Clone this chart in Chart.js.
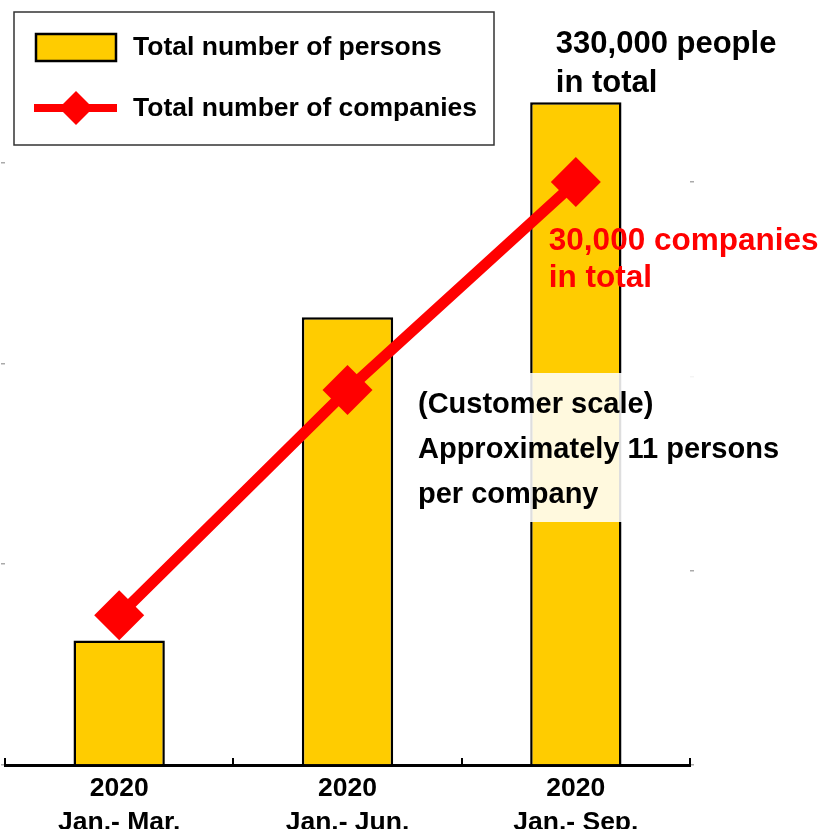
<!DOCTYPE html>
<html>
<head>
<meta charset="utf-8">
<title>Customers</title>
<script src="https://cdn.jsdelivr.net/npm/chart.js@4.4.1/dist/chart.umd.min.js"></script>
<style>
  body { margin: 0; background: #fff; }
  #wrap { position: relative; width: 821px; height: 829px; }
</style>
</head>
<body>
<div id="wrap"><canvas id="customersChart"></canvas></div>
<script>
// cumulative figures per period
const periods = [['2020', 'Jan.- Mar.'], ['2020', 'Jan.- Jun.'], ['2020', 'Jan.- Sep.']];
const totalPersons = [62000, 223000, 330000];
const totalCompanies = [7700, 19300, 30000];
const personsTicks = [0, 100000, 200000, 300000];
const companiesTicks = [0, 10000, 20000, 30000];
const personsPerCompany = 11;

const FONT = "'Liberation Sans', Arial, sans-serif";
const YELLOW = '#FFCC00';
const RED = '#FF0000';

function diamond(ctx, x, y, r) {
    ctx.beginPath();
    ctx.moveTo(x - r, y);
    ctx.lineTo(x, y - r);
    ctx.lineTo(x + r, y);
    ctx.lineTo(x, y + r);
    ctx.closePath();
    ctx.fill();
}

// boxed legend top-left, value call-outs and the scale note
const overlays = {
    id: 'overlays',
    afterDraw(chart) {
        const ctx = chart.ctx;
        const bars = chart.data.datasets[0];
        const line = chart.data.datasets[1];
        const lastBar = chart.getDatasetMeta(0).data[2];
        const lastPoint = chart.getDatasetMeta(1).data[2];
        ctx.save();

        ctx.fillStyle = '#fff';
        ctx.fillRect(14, 12, 480, 133);
        ctx.strokeStyle = '#333';
        ctx.lineWidth = 1.5;
        ctx.strokeRect(14, 12, 480, 133);

        ctx.fillStyle = bars.backgroundColor;
        ctx.fillRect(36, 34, 80, 27);
        ctx.strokeStyle = bars.borderColor;
        ctx.lineWidth = 2.5;
        ctx.strokeRect(36, 34, 80, 27);

        ctx.strokeStyle = line.borderColor;
        ctx.lineWidth = 8;
        ctx.beginPath();
        ctx.moveTo(34, 108);
        ctx.lineTo(117, 108);
        ctx.stroke();
        ctx.fillStyle = line.borderColor;
        diamond(ctx, 76, 108, 17);

        ctx.fillStyle = '#000';
        ctx.font = 'bold 26.5px ' + FONT;
        ctx.textBaseline = 'middle';
        ctx.fillText(bars.label, 133, 48);
        ctx.fillText(line.label, 133, 109);

        ctx.textBaseline = 'alphabetic';
        ctx.font = 'bold 31px ' + FONT;
        ctx.fillText(totalPersons[2].toLocaleString('en-US') + ' people', lastBar.x - 20, lastBar.y - 49);
        ctx.fillText('in total', lastBar.x - 20, lastBar.y - 10);

        ctx.fillStyle = RED;
        ctx.font = 'bold 31.5px ' + FONT;
        ctx.fillText(totalCompanies[2].toLocaleString('en-US') + ' companies', lastPoint.x - 27, lastPoint.y + 68);
        ctx.fillText('in total', lastPoint.x - 27, lastPoint.y + 105);

        ctx.fillStyle = 'rgba(255,255,255,0.87)';
        ctx.fillRect(405, 373, 395, 149);
        ctx.fillStyle = '#000';
        ctx.font = 'bold 29px ' + FONT;
        ctx.fillText('(Customer scale)', 418, 413);
        ctx.fillText('Approximately ' + personsPerCompany + ' persons', 418, 458);
        ctx.fillText('per company', 418, 503);

        ctx.restore();
    }
};

new Chart(document.getElementById('customersChart'), {
    data: {
        labels: periods,
        datasets: [{
            type: 'bar',
            label: 'Total number of persons',
            data: totalPersons,
            backgroundColor: YELLOW,
            borderColor: '#000',
            borderWidth: 2.5,
            barPercentage: 0.4,
            categoryPercentage: 1,
            yAxisID: 'y',
            order: 1
        }, {
            type: 'line',
            label: 'Total number of companies',
            data: totalCompanies,
            borderColor: RED,
            backgroundColor: RED,
            borderWidth: 11,
            pointStyle: 'rectRot',
            pointRadius: 25,
            pointBorderWidth: 0,
            pointBackgroundColor: RED,
            yAxisID: 'y1',
            order: 0
        }]
    },
    options: {
        responsive: true,
        maintainAspectRatio: false,
        animation: false,
        layout: {
            autoPadding: false,
            padding: { left: 1, right: 127, top: 12, bottom: 0 }
        },
        plugins: {
            legend: { display: false },
            tooltip: { enabled: false }
        },
        scales: {
            x: {
                offset: true,
                grid: { offset: true, drawOnChartArea: false, tickLength: -7, lineWidth: 2, color: '#000' },
                border: { color: '#000', width: 3 },
                ticks: {
                    color: '#000',
                    padding: 14,
                    maxRotation: 0,
                    autoSkip: false,
                    font: { family: FONT, size: 26.5, weight: 'bold', lineHeight: '34px' }
                },
                afterFit: (scale) => { scale.height = 64; }
            },
            y: {
                position: 'left',
                min: 0,
                max: 375000,
                afterBuildTicks: (scale) => { scale.ticks = personsTicks.map(v => ({ value: v })); },
                ticks: { display: false },
                grid: { drawOnChartArea: false, tickLength: 4, lineWidth: 1.5, color: '#aaa' },
                border: { display: false }
            },
            y1: {
                position: 'right',
                min: 0,
                max: 38750,
                afterBuildTicks: (scale) => { scale.ticks = companiesTicks.map(v => ({ value: v })); },
                ticks: { display: false },
                grid: { drawOnChartArea: false, tickLength: 4, lineWidth: 1.5, color: '#aaa' },
                border: { display: false }
            }
        }
    },
    plugins: [overlays]
});
</script>
</body>
</html>
